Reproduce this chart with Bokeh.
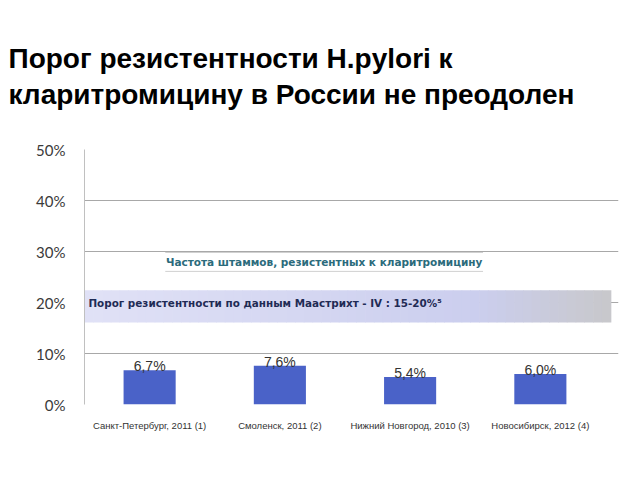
from bokeh.plotting import figure
from bokeh.models import Range1d, FixedTicker, Title, ColumnDataSource
from bokeh.core.properties import value
from bokeh.embed import file_html
from bokeh.resources import INLINE

title_lines = ["Порог резистентности H.pylori к", "кларитромицину в России не преодолен"]
categories = ["Санкт-Петербург, 2011 (1)", "Смоленск, 2011 (2)",
              "Нижний Новгород, 2010 (3)", "Новосибирск, 2012 (4)"]
values = [6.7, 7.6, 5.4, 6.0]
value_labels = ["6,7%", "7,6%", "5,4%", "6,0%"]
y_ticks = [0, 10, 20, 30, 40, 50]
y_tick_labels = ["0%", "10%", "20%", "30%", "40%", "50%"]
series_label = "Частота штаммов, резистентных к кларитромицину"
threshold_label = "Порог резистентности по данным Маастрихт - IV : 15-20%⁵"

W, H = 640, 480
FL, FB = 84, 76
p = figure(width=W, height=H, output_backend="svg", toolbar_location=None,
           x_range=Range1d(0, 4.1), y_range=Range1d(0, 50),
           min_border_left=FL, min_border_right=22, min_border_top=149, min_border_bottom=FB)
p.outline_line_color = None
p.background_fill_color = "white"
p.border_fill_color = "white"

xs = [i + 0.5 for i in range(len(categories))]

# threshold band (gradient approximated by slices)
def lerp(c1, c2, t):
    return "#%02x%02x%02x" % tuple(int(round(a + (b - a) * t)) for a, b in zip(c1, c2))
c_left, c_mid, c_right = (224, 225, 246), (203, 206, 238), (200, 200, 204)
n = 60
bx0, bx1 = 0.0, 4.04
lefts, rights, cols = [], [], []
for k in range(n):
    t = k / (n - 1)
    if t < 0.75:
        c = lerp(c_left, c_mid, t / 0.75)
    else:
        c = lerp(c_mid, c_right, (t - 0.75) / 0.25)
    lefts.append(bx0 + (bx1 - bx0) * k / n)
    rights.append(bx0 + (bx1 - bx0) * (k + 1) / n + 0.005)
    cols.append(c)
p.quad(left=lefts, right=rights, bottom=16.1, top=22.4, color=cols, line_color=None)

# grid
p.ygrid.ticker = FixedTicker(ticks=[10, 20, 30, 40])
p.ygrid.grid_line_color = "#a8a8a8"
p.ygrid.grid_line_width = 1
p.xgrid.grid_line_color = None
p.ygrid.level = "underlay"

# bars
src = ColumnDataSource(dict(x=xs, top=values, lab=value_labels))
p.vbar(x="x", top="top", bottom=0, width=0.4, source=src,
       fill_color="#4a62c8", line_color=None)
p.text(x="x", y="top", text="lab", source=src, text_align="center",
       text_baseline="bottom", y_offset=4, text_font=value("Liberation Sans"),
       text_font_size="14px", text_color="#333333")

# series label box
p.quad(left=0.62, right=3.06, bottom=26.1, top=29.8, fill_color="white",
       line_color=None)
p.segment(x0=[0.62, 0.62], x1=[3.06, 3.06], y0=[29.8, 26.1], y1=[29.8, 26.1],
          line_color="#d0d0d0", line_width=1)
p.text(x=[1.84], y=[28.0], text=[series_label], text_align="center",
       text_baseline="middle", text_font=value("DejaVu Sans"),
       text_font_style="bold", text_font_size="10.5px", text_color="#2b6b7c")
p.text(x=[0.03], y=[20.0], text=[threshold_label], text_align="left",
       text_baseline="middle", text_font=value("DejaVu Sans"),
       text_font_style="bold", text_font_size="10.4px", text_color="#1f2b55")

# axes
p.yaxis.ticker = FixedTicker(ticks=y_ticks)
p.yaxis.major_label_overrides = {t: l for t, l in zip(y_ticks, y_tick_labels)}
p.yaxis.major_label_text_font = "Lato"
p.yaxis.major_label_text_font_size = "15px"
p.yaxis.major_label_text_color = "#3a3a3a"
p.yaxis.axis_line_color = "#c0c0c0"
p.yaxis.major_tick_line_color = None
p.yaxis.minor_tick_line_color = None
p.yaxis.major_label_standoff = 13

p.xaxis.ticker = FixedTicker(ticks=xs)
p.xaxis.major_label_overrides = {x: c for x, c in zip(xs, categories)}
p.xaxis.major_label_text_font = "Liberation Sans"
p.xaxis.major_label_text_font_size = "9.5px"
p.xaxis.major_label_text_color = "#333333"
p.xaxis.axis_line_color = None
p.xaxis.major_tick_line_color = None
p.xaxis.minor_tick_line_color = None
p.xaxis.major_label_standoff = 9

# title (two lines in one Title)
p.add_layout(Title(text="\n".join(title_lines), align="left", offset=8 - FL,
                   standoff=79, text_font="Liberation Sans", text_font_style="bold",
                   text_font_size="28px", text_color="black",
                   text_line_height=1.15), "above")

open("out.html", "w").write(file_html(p, INLINE))
